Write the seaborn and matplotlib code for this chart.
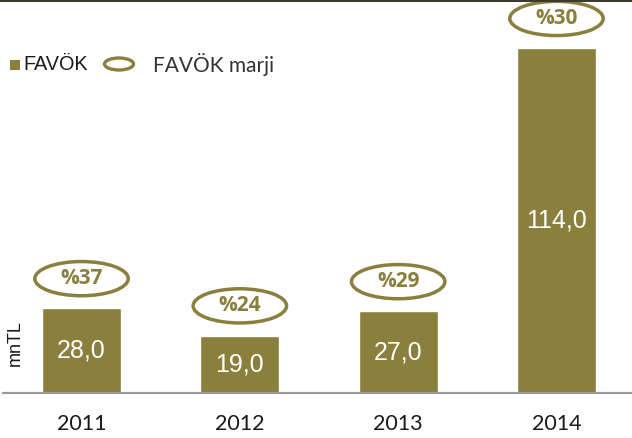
import matplotlib
matplotlib.use("Agg")
import matplotlib.pyplot as plt
from matplotlib.patches import Ellipse, Rectangle
from matplotlib.lines import Line2D
import seaborn as sns
import pandas as pd

# FAVÖK (EBITDA) by year, in million TL, and the margin for each year
years = ["2011", "2012", "2013", "2014"]
favok = [28.0, 19.0, 27.0, 114.0]
margins = ["%37", "%24", "%29", "%30"]

OLIVE = "#8A7F3C"
TEXT = "#1a1a1a"

sns.set_style("white")
plt.rcParams["font.family"] = ["Liberation Sans", "DejaVu Sans"]

df = pd.DataFrame({"year": years, "favok": favok})

fig = plt.figure(figsize=(6.32, 4.38), dpi=100)
ax = fig.add_axes([0, 45 / 438, 1, 393 / 438])

sns.barplot(data=df, x="year", y="favok", color=OLIVE, saturation=1,
            width=0.5, ax=ax)

ax.set_xlim(-0.515, 3.477)
ax.set_ylim(0, 129.9)
ax.axis("off")

# baseline
ax.add_line(Line2D([3 / 632, 1], [0, 0], transform=ax.transAxes,
                   color="#999999", lw=1.6, clip_on=False))

for i, (v, m, yr) in enumerate(zip(favok, margins, years)):
    # value inside the bar
    ax.text(i, v / 2, f"{v:.1f}".replace(".", ","), ha="center", va="center",
            color="white", fontsize=18, family=["Liberation Sans"])
    # margin bubble above the bar
    cy = v + 9.8
    ax.add_patch(Ellipse((i, cy), 0.59, 11.3, facecolor="white",
                         edgecolor=OLIVE, lw=2.5, clip_on=False))
    ax.text(i, cy, m, ha="center", va="center", color=OLIVE,
            fontsize=15, fontweight="bold",
            family=["Open Sans", "DejaVu Sans"])
    # year label
    ax.text(i, -31 / 3.026, yr, ha="center", va="center", color=TEXT,
            fontsize=15.5, family=["Lato", "DejaVu Sans"])

# unit label
fig.text(15 / 632, 1 - 343 / 438, "mnTL", rotation=90, ha="center",
         va="center", fontsize=13, color=TEXT)

# legend
fig.add_artist(Rectangle((10 / 632, 1 - 70 / 438), 10 / 632, 10 / 438,
                         transform=fig.transFigure, facecolor=OLIVE,
                         edgecolor="none"))
fig.text(23 / 632, 1 - 65 / 438, "FAVÖK", ha="left", va="center",
         fontsize=14.3, color=TEXT)
fig.add_artist(Ellipse((119 / 632, 1 - 64 / 438), 29 / 632, 12 / 438,
                       transform=fig.transFigure, facecolor="white",
                       edgecolor=OLIVE, lw=2.4))
fig.text(153 / 632, 1 - 65 / 438, "FAVÖK marji", ha="left", va="center",
         fontsize=15, color="#333333", family=["Lato", "DejaVu Sans"])

# dark rule along the top edge
fig.add_artist(Rectangle((0, 1 - 2 / 438), 1, 2 / 438,
                         transform=fig.transFigure, facecolor="#3a3a2e",
                         edgecolor="none"))

fig.savefig("out.png", dpi=100)
